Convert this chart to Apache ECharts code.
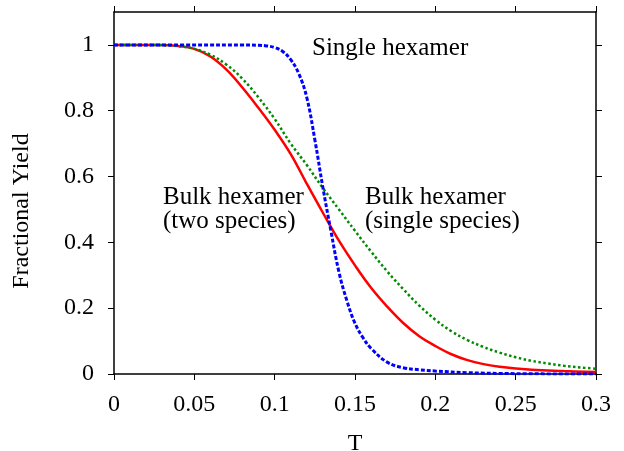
<!DOCTYPE html>
<html>
<head>
<meta charset="utf-8">
<script src="https://cdn.jsdelivr.net/npm/echarts@6/dist/echarts.min.js"></script>
<style>
  html, body { margin: 0; padding: 0; background: #fff; }
  #chart { width: 624px; height: 451px; }
</style>
</head>
<body>
<div id="chart"></div>
<script>
// tick labels
var xTicks = [0, 0.05, 0.1, 0.15, 0.2, 0.25, 0.3];
var yTicks = [0, 0.2, 0.4, 0.6, 0.8, 1];

// single hexamer (blue, dashed)
var blueT = [0, 0.05, 0.08, 0.09, 0.095, 0.1, 0.105, 0.11, 0.115, 0.12, 0.125, 0.13, 0.135, 0.14, 0.145, 0.15, 0.155, 0.16, 0.17, 0.18, 0.19, 0.2, 0.22, 0.25, 0.3];
var blueY = [1, 1, 1, 0.999, 0.997, 0.992, 0.98, 0.955, 0.913, 0.84, 0.712, 0.567, 0.435, 0.31, 0.222, 0.154, 0.11, 0.078, 0.036, 0.019, 0.013, 0.009, 0.004, 0.001, 0];

// bulk hexamer, two species (red, solid)
var redT = [0, 0.02, 0.03, 0.04, 0.05, 0.06, 0.07, 0.08, 0.09, 0.1, 0.11, 0.12, 0.13, 0.14, 0.15, 0.16, 0.17, 0.18, 0.19, 0.2, 0.21, 0.22, 0.23, 0.24, 0.26, 0.28, 0.3];
var redY = [1, 1, 1, 0.997, 0.988, 0.965, 0.925, 0.87, 0.808, 0.742, 0.668, 0.578, 0.49, 0.405, 0.33, 0.262, 0.205, 0.155, 0.115, 0.085, 0.06, 0.042, 0.03, 0.022, 0.013, 0.009, 0.006];

// bulk hexamer, single species (green, dotted)
var greenT = [0, 0.02, 0.03, 0.04, 0.05, 0.06, 0.07, 0.08, 0.09, 0.1, 0.11, 0.12, 0.13, 0.14, 0.15, 0.16, 0.17, 0.18, 0.19, 0.2, 0.21, 0.22, 0.23, 0.24, 0.25, 0.26, 0.27, 0.28, 0.29, 0.3];
var greenY = [1, 1, 0.999, 0.996, 0.988, 0.97, 0.94, 0.897, 0.84, 0.775, 0.70, 0.635, 0.565, 0.50, 0.435, 0.372, 0.312, 0.258, 0.208, 0.165, 0.13, 0.103, 0.082, 0.065, 0.051, 0.04, 0.032, 0.025, 0.02, 0.016];

function pairs(xs, ys) {
  var out = [];
  for (var i = 0; i < xs.length; i++) {
    out.push([xs[i], ys[i]]);
  }
  return out;
}

var font = "Liberation Serif";
var chart = echarts.init(document.getElementById("chart"), null, { renderer: "canvas" });

var axisLine = { show: true, onZero: false, lineStyle: { color: "#000", width: 1.5 } };
var axisTick = { show: true, inside: false, length: 6, lineStyle: { color: "#000", width: 1 } };

var options = {
  animation: false,
  backgroundColor: "#fff",
  grid: { left: 114, right: 28, top: 12, bottom: 77, outerBoundsMode: "none", containLabel: false },
  xAxis: [
    {
      type: "value",
      position: "bottom",
      min: 0,
      max: 0.3,
      interval: 0.05,
      name: "T",
      nameLocation: "middle",
      nameGap: 58,
      nameTextStyle: { fontFamily: font, fontSize: 24, color: "#000" },
      axisLine: axisLine,
      axisTick: Object.assign({ customValues: xTicks }, axisTick),
      axisLabel: { customValues: xTicks, margin: 19, fontFamily: font, fontSize: 24, color: "#000" },
      splitLine: { show: false },
    },
    {
      type: "value",
      position: "top",
      min: 0,
      max: 0.3,
      interval: 0.05,
      axisLine: axisLine,
      axisTick: Object.assign({ customValues: xTicks }, axisTick),
      axisLabel: { show: false },
      splitLine: { show: false },
    },
  ],
  yAxis: [
    {
      type: "value",
      position: "left",
      min: 0,
      max: 1.1,
      interval: 0.2,
      axisLine: axisLine,
      axisTick: Object.assign({ customValues: yTicks }, axisTick),
      axisLabel: { customValues: yTicks, margin: 20, fontFamily: font, fontSize: 24, color: "#000" },
      splitLine: { show: false },
    },
    {
      type: "value",
      position: "right",
      min: 0,
      max: 1.1,
      interval: 0.2,
      axisLine: axisLine,
      axisTick: Object.assign({ customValues: yTicks }, axisTick),
      axisLabel: { show: false },
      splitLine: { show: false },
    },
  ],
  graphic: [
    {
      type: "text",
      x: 22,
      y: 211,
      rotation: Math.PI / 2,
      style: { text: "Fractional Yield", fontFamily: font, fontSize: 24, fill: "#000", textAlign: "center", textVerticalAlign: "middle" },
    },
    {
      type: "text",
      x: 312,
      y: 48,
      style: { text: "Single hexamer", fontFamily: font, fontSize: 25, fill: "#000", textVerticalAlign: "middle" },
    },
    {
      type: "text",
      x: 163,
      y: 197,
      style: { text: "Bulk hexamer", fontFamily: font, fontSize: 25, fill: "#000", textVerticalAlign: "middle" },
    },
    {
      type: "text",
      x: 163,
      y: 221,
      style: { text: "(two species)", fontFamily: font, fontSize: 25, fill: "#000", textVerticalAlign: "middle" },
    },
    {
      type: "text",
      x: 365,
      y: 197,
      style: { text: "Bulk hexamer", fontFamily: font, fontSize: 25, fill: "#000", textVerticalAlign: "middle" },
    },
    {
      type: "text",
      x: 365,
      y: 221,
      style: { text: "(single species)", fontFamily: font, fontSize: 25, fill: "#000", textVerticalAlign: "middle" },
    },
  ],
  series: [
    {
      name: "Bulk hexamer (two species)",
      type: "line",
      data: pairs(redT, redY),
      smooth: 0.4,
      symbol: "none",
      lineStyle: { color: "#ff0000", width: 2.5, type: "solid" },
      z: 2,
    },
    {
      name: "Bulk hexamer (single species)",
      type: "line",
      data: pairs(greenT, greenY),
      smooth: 0.4,
      symbol: "none",
      lineStyle: { color: "#008a00", width: 2.5, type: [2.5, 2.5] },
      z: 3,
    },
    {
      name: "Single hexamer",
      type: "line",
      data: pairs(blueT, blueY),
      smooth: 0.4,
      symbol: "none",
      lineStyle: { color: "#0000ff", width: 3, type: [4, 2] },
      z: 4,
    },
  ],
};

chart.setOption(options);
</script>
</body>
</html>
